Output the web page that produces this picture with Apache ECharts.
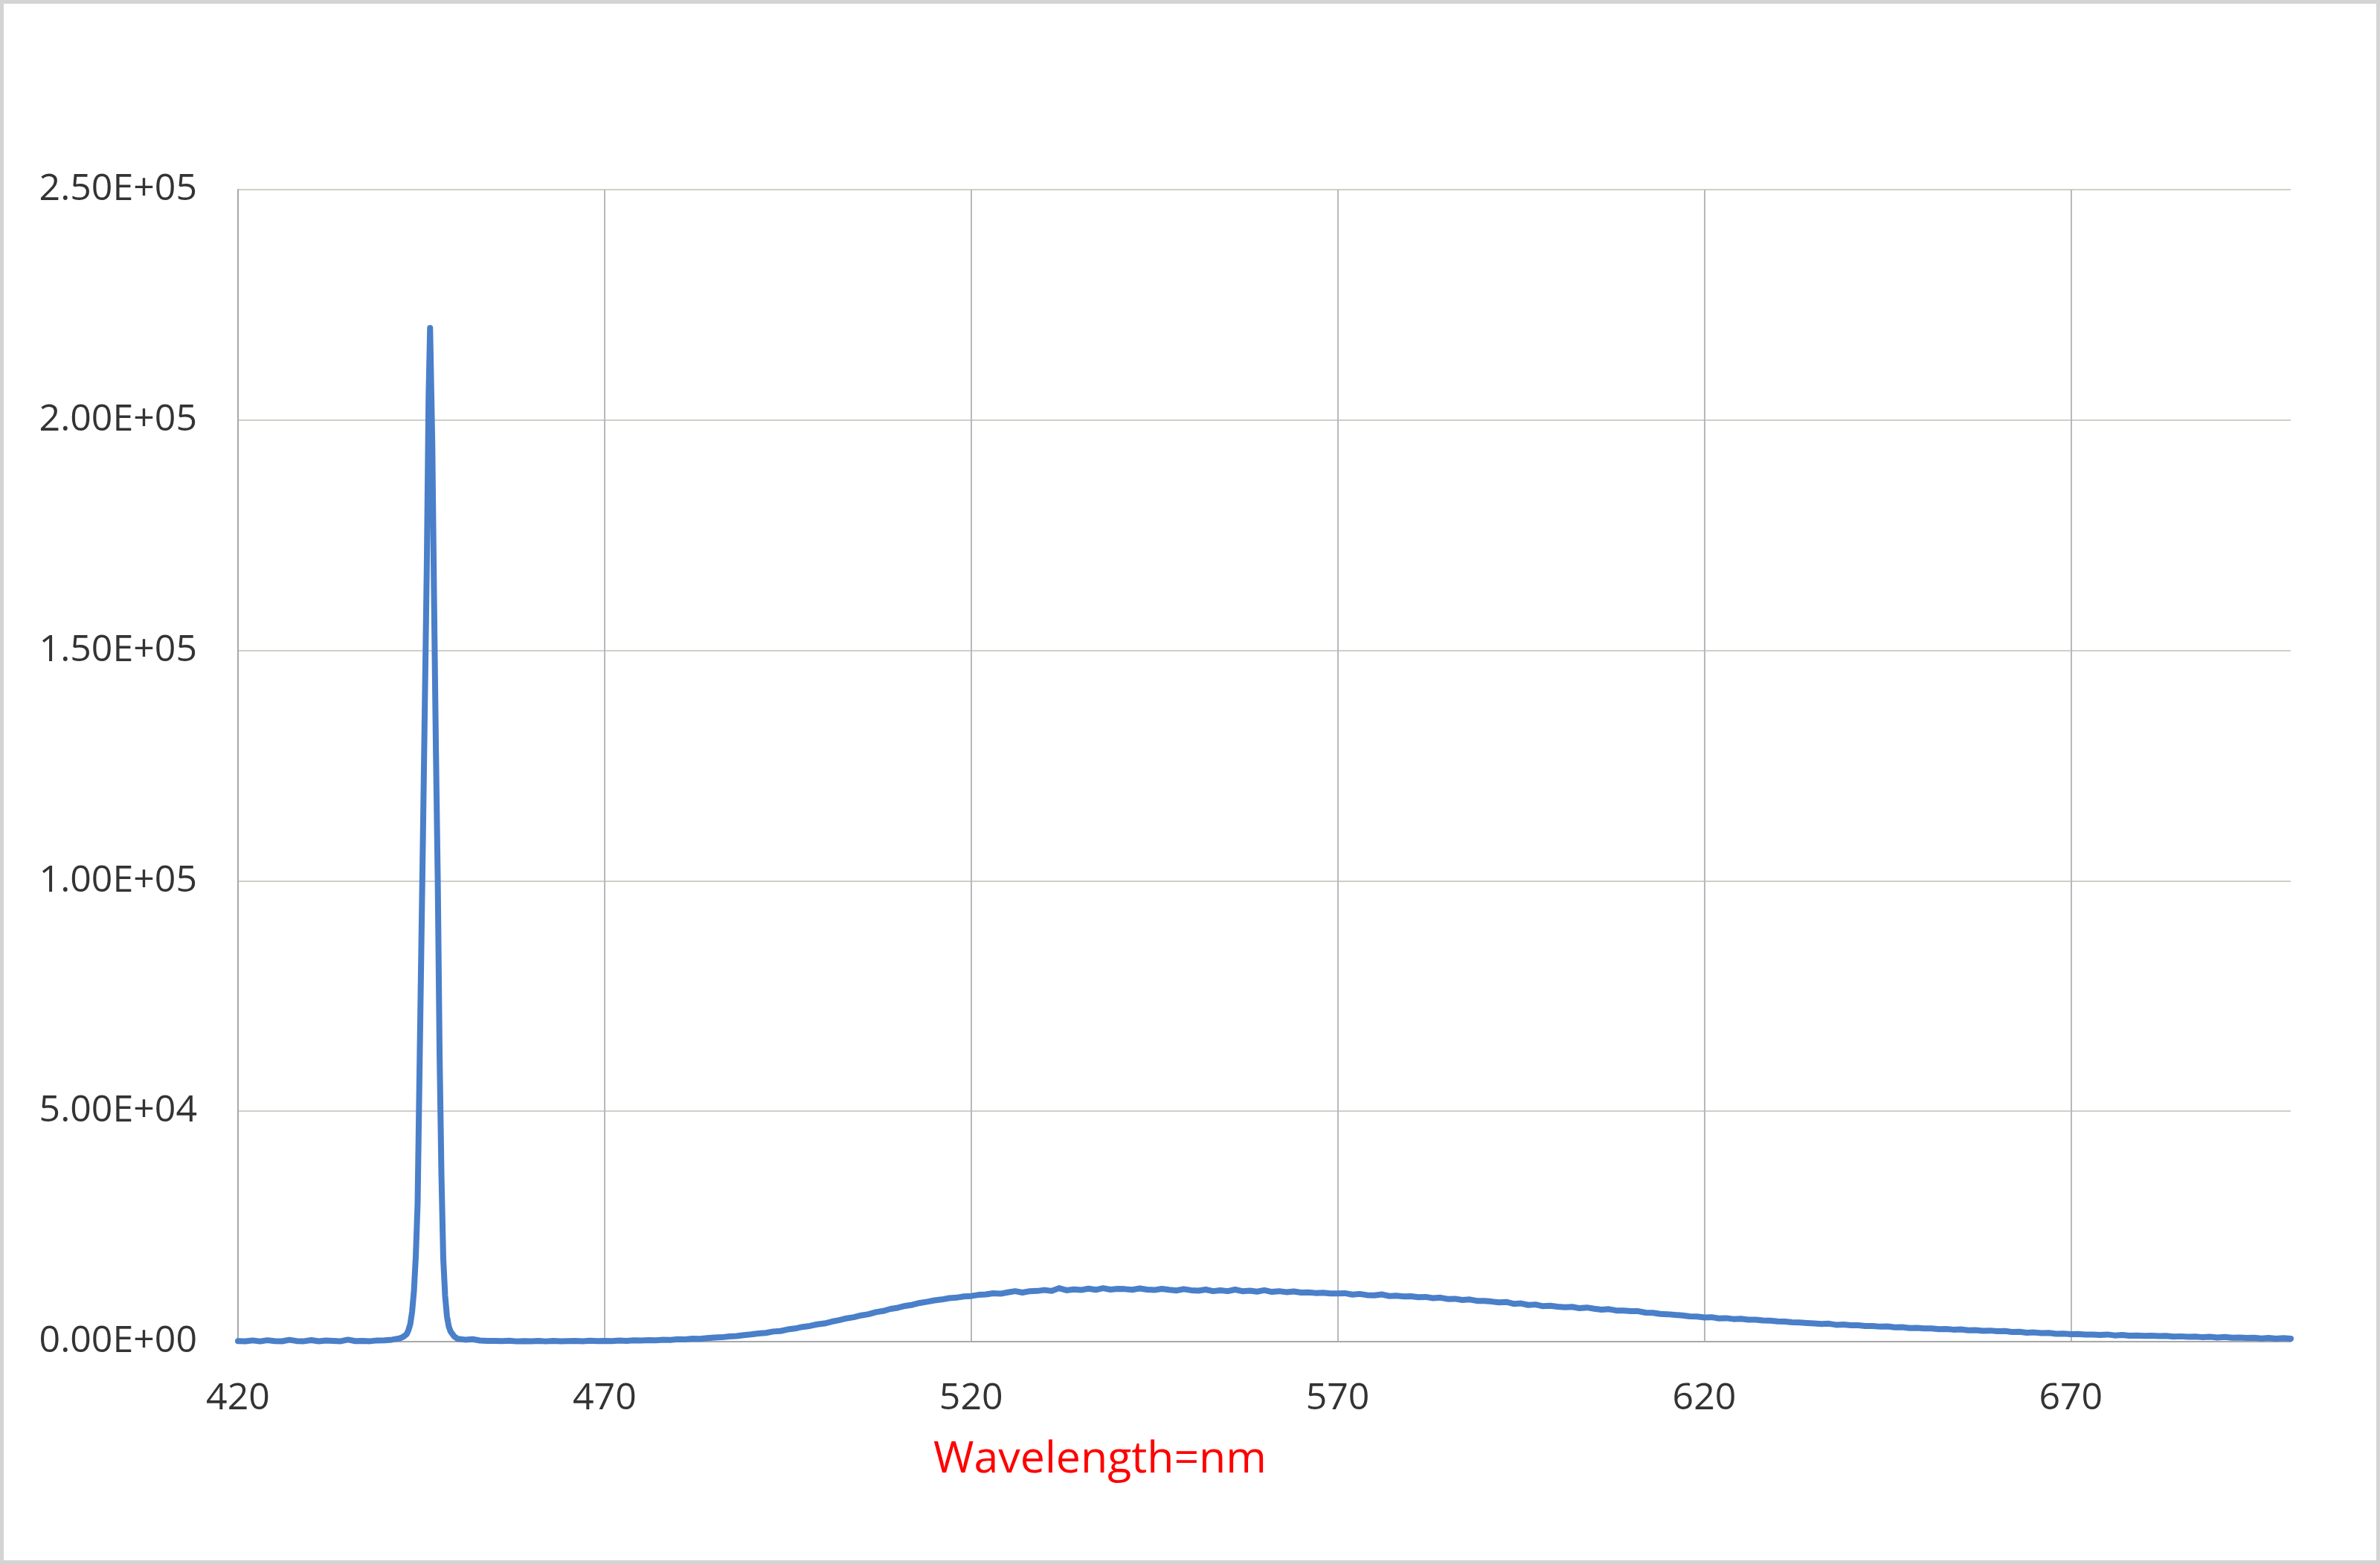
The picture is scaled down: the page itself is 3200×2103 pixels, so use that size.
<!DOCTYPE html>
<html>
<head>
<meta charset="utf-8">
<script src="https://cdn.jsdelivr.net/npm/echarts@6/dist/echarts.min.js"></script>
<style>
html,body{margin:0;padding:0;background:#fff;}
#chart{width:3200px;height:2103px;}
</style>
</head>
<body>
<div id="chart"></div>
<script>
// Wavelength (nm)
var wavelength = [
420,421,422,423,424,425,426,427,428,429,430,431,432,433,434,435,436,437,438,439,440,441,442,
442.5,443,443.25,443.5,443.75,444,444.25,444.5,445,445.25,445.5,445.75,446,446.2,446.5,446.75,447,447.25,447.5,447.75,448,448.25,448.5,448.75,449,449.5,450,
451,452,453,454,455,456,457,458,459,460,461,462,463,464,465,466,467,468,469,470,
471,472,473,474,475,476,477,478,479,480,481,482,483,484,485,486,487,488,489,490,
491,492,493,494,495,496,497,498,499,500,501,502,503,504,505,506,507,508,509,510,
511,512,513,514,515,516,517,518,519,520,521,522,523,524,525,526,527,528,529,530,
531,532,533,534,535,536,537,538,539,540,541,542,543,544,545,546,547,548,549,550,
551,552,553,554,555,556,557,558,559,560,561,562,563,564,565,566,567,568,569,570,
571,572,573,574,575,576,577,578,579,580,581,582,583,584,585,586,587,588,589,590,
591,592,593,594,595,596,597,598,599,600,601,602,603,604,605,606,607,608,609,610,
611,612,613,614,615,616,617,618,619,620,621,622,623,624,625,626,627,628,629,630,
631,632,633,634,635,636,637,638,639,640,641,642,643,644,645,646,647,648,649,650,
651,652,653,654,655,656,657,658,659,660,661,662,663,664,665,666,667,668,669,670,
671,672,673,674,675,676,677,678,679,680,681,682,683,684,685,686,687,688,689,690,
691,692,693,694,695,696,697,698,699,700
];
// Intensity (counts)
var intensity = [
120,80,260,60,300,110,90,380,140,100,330,70,240,150,90,420,130,180,100,260,300,420,700,
1000,1600,2500,3800,6500,11000,18500,30000,85000,112000,140000,168000,205000,220000,195000,160000,128000,100000,62000,36000,18000,10000,5500,3300,2200,1100,600,
420,520,250,180,150,110,200,60,130,90,150,60,160,90,120,170,80,190,110,150,
140,230,170,290,260,330,300,420,380,520,470,640,600,760,880,950,1120,1200,1420,1560,
1780,1900,2200,2300,2650,2850,3200,3400,3750,3950,4350,4650,5050,5300,5700,5950,6400,6650,7100,7350,
7750,8000,8400,8650,8950,9150,9450,9550,9800,9900,10150,10250,10500,10400,10700,10950,10650,10950,11000,11200,
11000,11600,11150,11350,11200,11500,11250,11600,11300,11450,11400,11250,11550,11300,11200,11450,11250,11100,11400,11150,
11050,11300,10950,11150,10950,11300,10950,11050,10850,11150,10800,10950,10750,10900,10650,10700,10550,10600,10450,10450,
10500,10200,10350,10100,10050,10250,9900,9950,9800,9850,9650,9700,9450,9550,9250,9300,9050,9150,8850,8850,
8700,8500,8600,8200,8300,7950,8050,7700,7800,7600,7450,7550,7250,7400,7150,6950,7050,6750,6750,6600,
6600,6300,6250,6000,5950,5800,5700,5500,5450,5250,5300,5050,5100,4900,4950,4750,4750,4600,4550,4400,
4350,4200,4150,4050,3950,3850,3900,3650,3700,3550,3550,3400,3400,3250,3300,3100,3150,2950,3000,2850,
2850,2700,2750,2600,2650,2450,2500,2350,2400,2250,2300,2100,2150,1950,2000,1850,1900,1700,1750,1600,
1650,1550,1550,1450,1550,1350,1450,1300,1350,1250,1300,1200,1250,1100,1150,1050,1100,950,1050,900,
1000,850,900,800,850,700,800,650,750,650
];
var xMin = 420, xMax = 700, xStep = 50;
var yMin = 0, yMax = 250000, yStep = 50000;
var xTitle = 'Wavelength=nm';

var seriesData = wavelength.map(function(w, i){ return [w, intensity[i]]; });

function sci(v){
  if (v === 0) return '0.00E+00';
  var s = v.toExponential(2).toUpperCase();
  var parts = s.split('E');
  var sign = parts[1].charAt(0);
  var exp = parts[1].slice(1);
  if (exp.length < 2) exp = '0' + exp;
  return parts[0] + 'E' + sign + exp;
}

var chart = echarts.init(document.getElementById('chart'), null, {renderer:'canvas'});
chart.setOption({
  animation: false,
  backgroundColor: '#ffffff',
  grid: {left: 320, right: 120, top: 255, bottom: 299, containLabel: false},
  xAxis: {
    type: 'value', min: xMin, max: xMax, interval: xStep,
    axisLine: {show: true, lineStyle: {color: '#a8a8a8', width: 2}},
    axisTick: {show: false},
    axisLabel: {show: true, showMaxLabel: false, margin: 52, color: '#333333', fontSize: 50, fontFamily: 'Open Sans'},
    splitLine: {show: true, showMinLine: false, showMaxLine: false, lineStyle: {color: '#b8b8b8', width: 2}}
  },
  yAxis: {
    type: 'value', min: yMin, max: yMax, interval: yStep,
    axisLine: {show: true, lineStyle: {color: '#a8a8a8', width: 2}},
    axisTick: {show: false},
    axisLabel: {show: true, margin: 55, color: '#333333', fontSize: 50, fontFamily: 'Open Sans', formatter: sci},
    splitLine: {show: true, showMinLine: false, lineStyle: {color: '#cfcfc8', width: 2}}
  },
  series: [{
    type: 'line',
    data: seriesData,
    showSymbol: false,
    symbol: 'none',
    smooth: false,
    lineStyle: {color: '#4a7fc9', width: 8, join: 'round', cap: 'round'},
    z: 3
  }],
  graphic: [
    {type: 'rect', shape: {x: 2.5, y: 2.5, width: 3195, height: 2098}, style: {fill: null, stroke: '#d4d4d4', lineWidth: 5}, silent: true},
    {type: 'text', x: 1479, y: 1963, style: {text: xTitle, fill: '#ff0000', fontSize: 59, fontFamily: 'Open Sans', textAlign: 'center', textVerticalAlign: 'middle'}}
  ]
});
</script>
</body>
</html>
